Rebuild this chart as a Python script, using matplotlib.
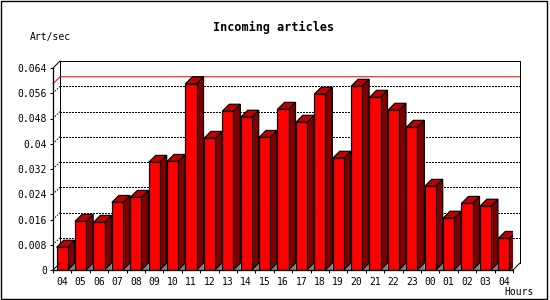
import numpy as np
import matplotlib
matplotlib.use("Agg")
import matplotlib.pyplot as plt
from matplotlib.patches import Polygon, Rectangle

# data
hours = ['04', '05', '06', '07', '08', '09', '10', '11', '12', '13', '14', '15', '16',
         '17', '18', '19', '20', '21', '22', '23', '00', '01', '02', '03', '04']
rate = [0.0072, 0.0154, 0.0151, 0.0214, 0.0230, 0.0341, 0.0344, 0.0590, 0.0417,
        0.0503, 0.0484, 0.0420, 0.0509, 0.0468, 0.0557, 0.0354, 0.0582, 0.0547,
        0.0506, 0.0452, 0.0265, 0.0164, 0.0211, 0.0202, 0.0100]
yticks = np.arange(0, 0.0641, 0.008)

px = 0.72  # one pixel as points at dpi 100
mono = 'DejaVu Sans Mono'

fig = plt.figure(figsize=(5.5, 3), dpi=100)
fig.patch.set_facecolor('white')
ax = fig.add_axes([53/550, 30/300, 460/550, 202/300])
ax.set_xlim(-0.5, len(rate) - 0.5)
ax.set_ylim(0, 0.064)
ax.patch.set_visible(False)

# 3d depth of 7 px, in data units
dx = 7 / 460 * len(rate)
dy = 7 / 202 * 0.064
x0, x1 = -0.5, len(rate) - 0.5
top = 0.064

# back wall
ax.plot([x0 + dx, x0 + dx, x1 + dx, x1 + dx], [dy, top + dy, top + dy, dy],
        color='black', lw=px, clip_on=False, zorder=1)
ax.plot([x0, x0 + dx], [top, top + dy], color='black', lw=px, clip_on=False, zorder=1)
for g in yticks[1:-1]:
    ax.plot([x0 + dx, x1 + dx], [g + dy, g + dy], color='black', lw=px,
            linestyle=(0, (1.4, 1.4)), antialiased=False, clip_on=False, zorder=1)
    ax.plot([x0, x0 + dx], [g, g + dy], color='black', lw=px,
            linestyle=(0, (1.4, 1.4)), clip_on=False, zorder=1)
m = max(rate)
ax.plot([x0, x0 + dx, x1 + dx], [m, m + dy, m + dy], color='#e00000', lw=px,
        clip_on=False, zorder=1)

# bars
w = 0.6
xs = np.arange(len(rate))
ax.bar(xs, rate, w, color='#ff0000', edgecolor='black', linewidth=px * 1.2, zorder=3)
for x, v in zip(xs, rate):
    l, r = x - w/2, x + w/2
    ax.add_patch(Polygon([(r, 0), (r + dx, dy), (r + dx, 0)], closed=True,
                         facecolor='#808080', edgecolor='#808080', lw=px * 0.5, zorder=2))
    ax.add_patch(Polygon([(r, 0), (r + dx, dy), (r + dx, v + dy), (r, v)], closed=True,
                         facecolor='#800000', edgecolor='black', lw=px * 1.2, zorder=2))
    ax.add_patch(Polygon([(l, v), (l + dx, v + dy), (r + dx, v + dy), (r, v)], closed=True,
                         facecolor='#c00000', edgecolor='black', lw=px * 1.2, zorder=2))

# front floor edges
ax.plot([x0, x0 + dx], [0, dy], color='black', lw=px, clip_on=False, zorder=4)
ax.plot([x1, x1 + dx], [0, dy], color='black', lw=px, clip_on=False, zorder=4)

for s in ['top', 'right']:
    ax.spines[s].set_visible(False)
for s in ['left', 'bottom']:
    ax.spines[s].set_linewidth(px * 1.3)
    ax.spines[s].set_zorder(5)

ax.set_yticks(yticks)
ax.set_yticklabels(['%g' % t for t in yticks], fontfamily=mono, fontsize=7)
ax.set_xticks(xs)
ax.set_xticklabels(hours, fontfamily=mono, fontsize=7)
ax.set_xticks(np.arange(x0, x1 + 0.1, 1), minor=True)
ax.tick_params(axis='y', length=3 * px, width=px, pad=2)
ax.tick_params(axis='x', which='major', length=0, pad=5)
ax.tick_params(axis='x', which='minor', length=3 * px, width=px)

fig.text(274/550, 1 - 27/300, 'Incoming articles', ha='center', va='center',
         fontfamily=mono, fontweight='bold', fontsize=8.5)
fig.text(30/550, 1 - 37/300, 'Art/sec', ha='left', va='center', fontfamily=mono, fontsize=7)
fig.text(534/550, 1 - 292/300, 'Hours', ha='right', va='center', fontfamily=mono, fontsize=7)

fig.add_artist(Rectangle((0.5/550, 1.5/300), 546.5/550, 297.5/300, transform=fig.transFigure,
                         fill=False, edgecolor='black', lw=1.4 * px))

fig.savefig('out.png', dpi=100)
